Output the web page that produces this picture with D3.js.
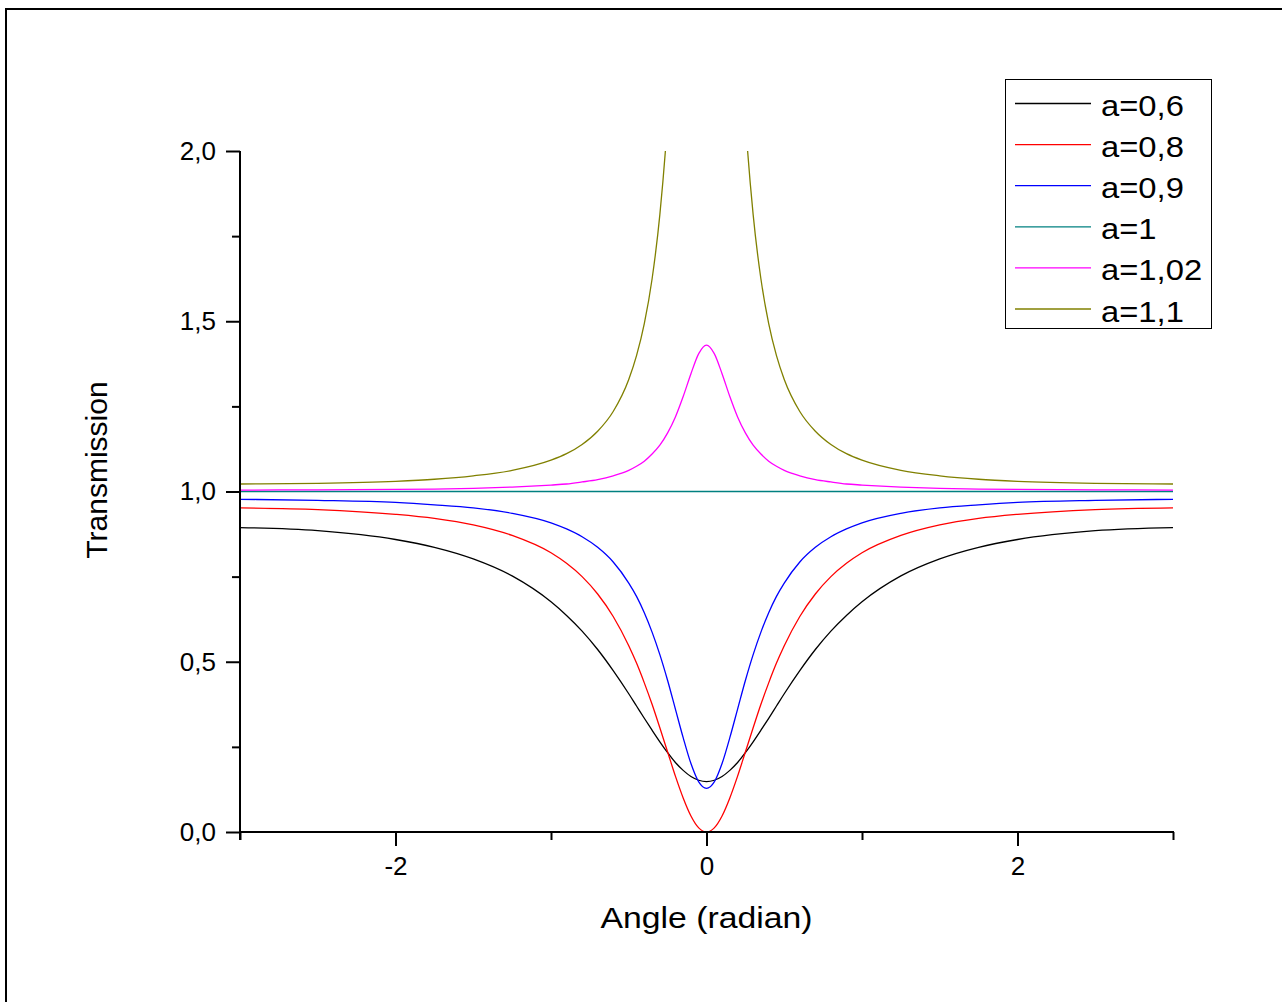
<!DOCTYPE html>
<html>
<head>
<meta charset="utf-8">
<script src="https://cdn.jsdelivr.net/npm/d3@7"></script>
<style>
  html, body { margin: 0; padding: 0; background: #fff; }
  svg { display: block; }
  text { font-family: "Liberation Sans", Arial, Helvetica, sans-serif; fill: #000; }
</style>
</head>
<body>
<script>
// Phase angle samples (radian), denser near resonance
const angles = [-3, -2.5, -2, -1.75, -1.5, -1.25, -1, -0.9, -0.8, -0.7, -0.6, -0.5, -0.45, -0.4, -0.35, -0.3, -0.25, -0.2, -0.15, -0.1, -0.05,
  0,
  0.05, 0.1, 0.15, 0.2, 0.25, 0.3, 0.35, 0.4, 0.45, 0.5, 0.6, 0.7, 0.8, 0.9, 1, 1.25, 1.5, 1.75, 2, 2.5, 3];

// Transmission for each round-trip amplitude a
const tA06 = [0.894, 0.885, 0.859, 0.836, 0.802, 0.752, 0.676, 0.636, 0.590, 0.536, 0.474, 0.406, 0.370, 0.334, 0.299, 0.265, 0.233, 0.204, 0.181, 0.163, 0.152,
  0.148,
  0.152, 0.163, 0.181, 0.204, 0.233, 0.265, 0.299, 0.334, 0.370, 0.406, 0.474, 0.536, 0.590, 0.636, 0.676, 0.752, 0.802, 0.836, 0.859, 0.885, 0.894];
const tA08 = [0.952, 0.947, 0.933, 0.921, 0.902, 0.871, 0.820, 0.789, 0.750, 0.699, 0.633, 0.547, 0.496, 0.438, 0.375, 0.306, 0.235, 0.164, 0.100, 0.047, 0.012,
  0.000,
  0.012, 0.047, 0.100, 0.164, 0.235, 0.306, 0.375, 0.438, 0.496, 0.547, 0.633, 0.699, 0.750, 0.789, 0.820, 0.871, 0.902, 0.921, 0.933, 0.947, 0.952];
const tA09 = [0.977, 0.974, 0.968, 0.961, 0.952, 0.936, 0.908, 0.890, 0.867, 0.836, 0.793, 0.731, 0.692, 0.644, 0.587, 0.521, 0.445, 0.361, 0.277, 0.201, 0.147,
  0.128,
  0.147, 0.201, 0.277, 0.361, 0.445, 0.521, 0.587, 0.644, 0.692, 0.731, 0.793, 0.836, 0.867, 0.890, 0.908, 0.936, 0.952, 0.961, 0.968, 0.974, 0.977];
const tA10 = [1, 1, 1, 1, 1, 1, 1, 1, 1, 1, 1, 1, 1, 1, 1, 1, 1, 1, 1, 1, 1,
  1,
  1, 1, 1, 1, 1, 1, 1, 1, 1, 1, 1, 1, 1, 1, 1, 1, 1, 1, 1, 1, 1];
const tA102 = [1.004, 1.005, 1.006, 1.007, 1.009, 1.013, 1.019, 1.022, 1.028, 1.035, 1.046, 1.062, 1.074, 1.089, 1.110, 1.136, 1.172, 1.219, 1.279, 1.346, 1.405,
  1.430,
  1.405, 1.346, 1.279, 1.219, 1.172, 1.136, 1.110, 1.089, 1.074, 1.062, 1.046, 1.035, 1.028, 1.022, 1.019, 1.013, 1.009, 1.007, 1.006, 1.005, 1.004];
const tA11 = [1.022, 1.024, 1.030, 1.036, 1.046, 1.062, 1.092, 1.111, 1.138, 1.177, 1.235, 1.329, 1.399, 1.493, 1.624, 1.813, 2.094, 2.528, 3.213, 4.260, 5.554,
  6.250,
  5.554, 4.260, 3.213, 2.528, 2.094, 1.813, 1.624, 1.493, 1.399, 1.329, 1.235, 1.177, 1.138, 1.111, 1.092, 1.062, 1.046, 1.036, 1.030, 1.024, 1.022];

const seriesNames = ["a=0,6", "a=0,8", "a=0,9", "a=1", "a=1,02", "a=1,1"];
const seriesValues = [tA06, tA08, tA09, tA10, tA102, tA11];
const seriesColors = ["#000000", "#ff0000", "#0000ff", "#008080", "#ff00ff", "#808000"];

const xTickValues = [-2, 0, 2];
const xMinorValues = [-3, -1, 1, 3];
const yTickValues = [0, 0.5, 1, 1.5, 2];
const yTickLabels = ["0,0", "0,5", "1,0", "1,5", "2,0"];
const yMinorValues = [0.25, 0.75, 1.25, 1.75];

const W = 1282, H = 1002;
const plot = { left: 240, right: 1173, top: 151, bottom: 832 };

const svg = d3.select("body").append("svg").attr("width", W).attr("height", H);

// outer frame
svg.append("rect")
  .attr("x", 6).attr("y", 9).attr("width", W + 20).attr("height", H + 20)
  .attr("fill", "none").attr("stroke", "#000").attr("stroke-width", 2);

const x = d3.scaleLinear().domain([-3, 3]).range([plot.left, plot.right]);
const y = d3.scaleLinear().domain([0, 2]).range([plot.bottom, plot.top]);

svg.append("clipPath").attr("id", "plot-clip")
  .append("rect")
  .attr("x", plot.left).attr("y", plot.top)
  .attr("width", plot.right - plot.left).attr("height", plot.bottom - plot.top);

// curves
const line = d3.line()
  .x((d, i) => x(angles[i]))
  .y(d => y(d))
  .curve(d3.curveMonotoneX);

const curves = svg.append("g").attr("clip-path", "url(#plot-clip)");
seriesValues.forEach((vals, k) => {
  curves.append("path")
    .datum(vals)
    .attr("d", line)
    .attr("fill", "none")
    .attr("stroke", seriesColors[k])
    .attr("stroke-width", 1.3);
});

// axes
const fmtTick = d => String(d).replace(".", ",");

const xAxis = svg.append("g")
  .attr("transform", `translate(0,${plot.bottom})`)
  .call(d3.axisBottom(x).tickValues(xTickValues).tickSize(14).tickPadding(10).tickFormat(fmtTick));
const xMinor = svg.append("g")
  .attr("transform", `translate(0,${plot.bottom})`)
  .call(d3.axisBottom(x).tickValues(xMinorValues).tickSize(8).tickFormat(""));

const yAxis = svg.append("g")
  .attr("transform", `translate(${plot.left},0)`)
  .call(d3.axisLeft(y).tickValues(yTickValues).tickSize(14).tickPadding(10)
    .tickFormat((d, i) => yTickLabels[i]));
const yMinor = svg.append("g")
  .attr("transform", `translate(${plot.left},0)`)
  .call(d3.axisLeft(y).tickValues(yMinorValues).tickSize(8).tickFormat(""));

[xAxis, xMinor, yAxis, yMinor].forEach(g => {
  g.select(".domain").remove();
  g.selectAll(".tick line").attr("stroke", "#000").attr("stroke-width", 2);
  g.selectAll(".tick text")
    .attr("font-size", 26)
    .style("font-family", "'Liberation Sans', Arial, sans-serif")
    .attr("fill", "#000");
});
xAxis.selectAll(".tick text").attr("dy", "0.73em");

// axis lines
svg.append("line")
  .attr("x1", plot.left).attr("x2", plot.left)
  .attr("y1", plot.top).attr("y2", plot.bottom + 8)
  .attr("stroke", "#000").attr("stroke-width", 2);
svg.append("line")
  .attr("x1", plot.left).attr("x2", plot.right + 1)
  .attr("y1", plot.bottom).attr("y2", plot.bottom)
  .attr("stroke", "#000").attr("stroke-width", 2);

// axis titles
svg.append("text")
  .attr("x", (plot.left + plot.right) / 2)
  .attr("y", 928)
  .attr("text-anchor", "middle")
  .attr("font-size", 30)
  .attr("textLength", 212)
  .attr("lengthAdjust", "spacingAndGlyphs")
  .text("Angle (radian)");

svg.append("text")
  .attr("transform", "translate(107,470) rotate(-90)")
  .attr("text-anchor", "middle")
  .attr("font-size", 30)
  .text("Transmission");

// legend
const legend = svg.append("g");
legend.append("rect")
  .attr("x", 1005.5).attr("y", 79.5)
  .attr("width", 206).attr("height", 249)
  .attr("fill", "#fff").attr("stroke", "#000").attr("stroke-width", 1);

seriesNames.forEach((name, i) => {
  const ry = 103.5 + i * 41.1;
  legend.append("line")
    .attr("x1", 1015).attr("x2", 1091)
    .attr("y1", ry).attr("y2", ry)
    .attr("stroke", seriesColors[i]).attr("stroke-width", 1.3);
  legend.append("text")
    .attr("transform", `translate(1101,${ry + 12.5}) scale(1.13,1)`)
    .attr("font-size", 29)
    .text(name);
});
</script>
</body>
</html>
